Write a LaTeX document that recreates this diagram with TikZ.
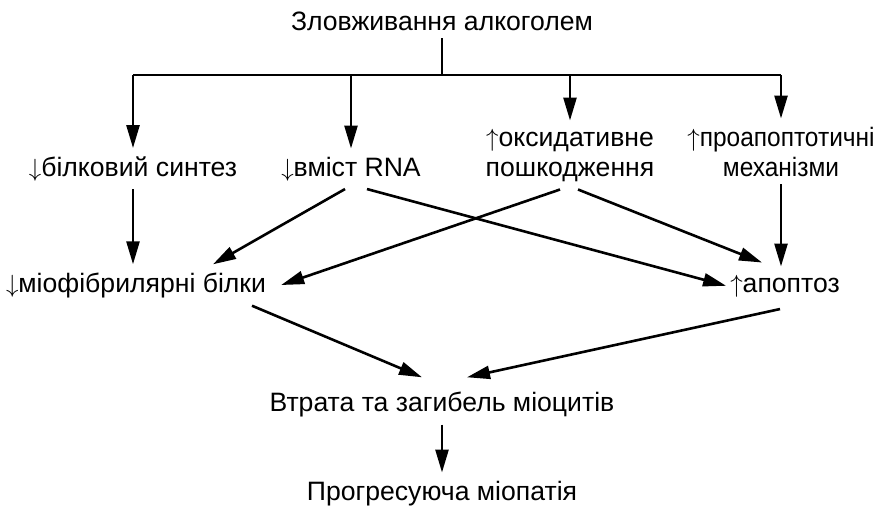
\documentclass[tikz,border=0pt]{standalone}
\usepackage{fontspec}
\setmainfont{Liberation Sans}
\newfontfamily\narrowsf[FakeStretch=0.92]{Liberation Sans}
\usetikzlibrary{arrows.meta, calc}

\begin{document}
\begin{tikzpicture}[x=1pt, y=-1pt,
    every node/.style={font=\fontsize{26.6}{30}\selectfont},
    lbl/.style={inner xsep=0pt, inner ysep=8pt, align=center, anchor=base},
    ln/.style={line width=2.6pt},
    arr/.style={ln, -{Triangle[length=23pt, width=13pt]}}
]
    \useasboundingbox (0,0) rectangle (877,506);
    \node[lbl] (abuse)    at (442,30)  {Зловживання алкоголем};
    \node[lbl] (synth)    at (133,176) {$\downarrow$білковий синтез};
    \node[lbl] (rna)      at (351,176) {$\downarrow$вміст RNA};
    \node[lbl] (oxid)     at (570,176) {$\uparrow$оксидативне\\пошкодження};
    \node[lbl, font=\fontsize{26.6}{30}\narrowsf] (proapo) at (781,176) {$\uparrow$проапоптотичні\\механізми};
    \node[lbl] (myofib)   at (136,292) {$\downarrow$міофібрилярні білки};
    \node[lbl] (apopt)    at (785,292) {$\uparrow$апоптоз};
    \node[lbl] (loss)     at (442,411) {Втрата та загибель міоцитів};
    \node[lbl] (myopathy) at (442,500) {Прогресуюча міопатія};
    \coordinate (bar) at (442,75);

    \draw[ln] (abuse.south) -- (bar);
    \draw[ln] (synth |- bar) -- (proapo |- bar);
    \foreach \n in {synth, rna, oxid, proapo}
        \draw[arr] (\n |- bar) -- (\n.north);

    \draw[arr] (synth.south) -- (synth |- myofib.north);
    \draw[arr] ($(rna.south)+(-6,0)$) -- ($(myofib.north)+(77,0)$);
    \draw[arr] ($(rna.south)+(16,0)$) -- ($(apopt.west)+(-4,0)$);
    \draw[arr] ($(oxid.south)+(-10,0)$) -- ($(myofib.east)+(15,0)$);
    \draw[arr] ($(oxid.south)+(8,0)$) -- ($(apopt.north)+(-23,-4)$);
    \draw[arr] (proapo.south) -- (proapo |- apopt.north);
    \draw[arr] ($(myofib.south)+(116,0)$) -- ($(loss.north)+(-20,-6)$);
    \draw[arr] ($(apopt.south)+(-5,4)$) -- ($(loss.north)+(25,-6)$);
    \draw[arr] (loss.south) -- (myopathy.north);
\end{tikzpicture}
\end{document}
